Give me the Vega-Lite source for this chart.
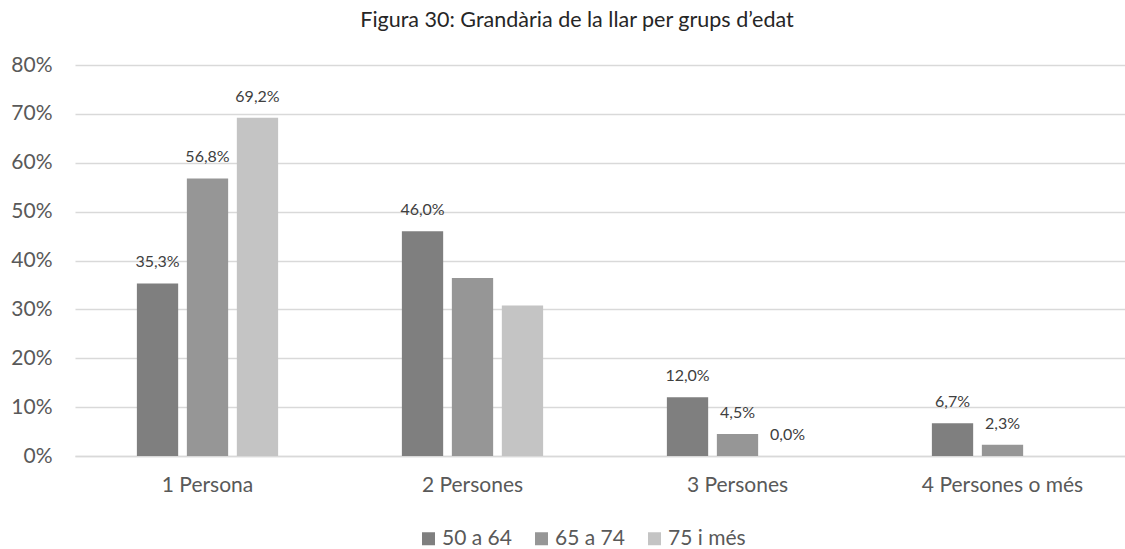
{
  "$schema": "https://vega.github.io/schema/vega-lite/v6.json",
  "width": 1050,
  "height": 391,
  "autosize": {"type": "none"},
  "padding": {"left": 75, "top": 65, "right": 0, "bottom": 93},
  "background": "white",
  "config": {
    "locale": {"number": {"decimal": ",", "thousands": ".", "grouping": [3], "currency": ["", " €"]}},
    "font": "Lato",
    "view": {"stroke": null}
  },
  "title": {
    "text": "Figura 30: Grandària de la llar per grups d’edat",
    "font": "Lato",
    "fontSize": 21.5,
    "fontWeight": "normal",
    "color": "#262626",
    "anchor": "middle",
    "frame": "group",
    "dx": -23,
    "offset": 6,
    "baseline": "alphabetic"
  },
  "data": {
    "values": [
      {"size": "1 Persona", "age": "50 a 64", "value": 0.353, "labelled": true},
      {"size": "1 Persona", "age": "65 a 74", "value": 0.568, "labelled": true},
      {"size": "1 Persona", "age": "75 i més", "value": 0.692, "labelled": true},
      {"size": "2 Persones", "age": "50 a 64", "value": 0.46, "labelled": true},
      {"size": "2 Persones", "age": "65 a 74", "value": 0.364, "labelled": false},
      {"size": "2 Persones", "age": "75 i més", "value": 0.308, "labelled": false},
      {"size": "3 Persones", "age": "50 a 64", "value": 0.12, "labelled": true},
      {"size": "3 Persones", "age": "65 a 74", "value": 0.045, "labelled": true},
      {"size": "3 Persones", "age": "75 i més", "value": 0.0, "labelled": true},
      {"size": "4 Persones o més", "age": "50 a 64", "value": 0.067, "labelled": true},
      {"size": "4 Persones o més", "age": "65 a 74", "value": 0.023, "labelled": true},
      {"size": "4 Persones o més", "age": "75 i més", "value": 0.0, "labelled": false}
    ]
  },
  "encoding": {
    "x": {
      "field": "size",
      "type": "nominal",
      "sort": ["1 Persona", "2 Persones", "3 Persones", "4 Persones o més"],
      "scale": {"range": [0, 1060], "paddingInner": 0.467, "paddingOuter": 0.2335},
      "axis": {
        "title": null,
        "labelAngle": 0,
        "labelFontSize": 21,
        "labelColor": "#595959",
        "labelPadding": 18,
        "ticks": false,
        "domainColor": "#d9d9d9",
        "domainWidth": 1.3
      }
    },
    "xOffset": {
      "field": "age",
      "type": "nominal",
      "sort": ["50 a 64", "65 a 74", "75 i més"],
      "scale": {"paddingInner": 0.174, "paddingOuter": 0}
    },
    "y": {
      "field": "value",
      "type": "quantitative",
      "scale": {"domain": [0, 0.8]},
      "axis": {
        "title": null,
        "values": [0, 0.1, 0.2, 0.3, 0.4, 0.5, 0.6, 0.7, 0.8],
        "format": ".0%",
        "labelFontSize": 21,
        "labelColor": "#595959",
        "labelPadding": 23,
        "ticks": false,
        "domain": false,
        "grid": true,
        "gridColor": "#d9d9d9",
        "gridWidth": 1.3
      }
    }
  },
  "layer": [
    {
      "mark": {"type": "bar"},
      "encoding": {
        "color": {
          "field": "age",
          "type": "nominal",
          "sort": ["50 a 64", "65 a 74", "75 i més"],
          "scale": {"domain": ["50 a 64", "65 a 74", "75 i més"], "range": ["#7f7f7f", "#969696", "#c4c4c4"]},
          "legend": {
            "title": null,
            "orient": "none",
            "legendX": 343,
            "legendY": 463,
            "direction": "horizontal",
            "symbolType": "square",
            "symbolSize": 169,
            "symbolStrokeWidth": 0,
            "labelFontSize": 21,
            "labelColor": "#595959",
            "labelOffset": 3,
            "columnPadding": 19,
            "padding": 0
          }
        }
      }
    },
    {
      "transform": [{"filter": "datum.labelled"}],
      "mark": {"type": "text", "dy": -16, "baseline": "alphabetic", "fontSize": 16, "color": "#404040"},
      "encoding": {
        "text": {"field": "value", "type": "quantitative", "format": ".1%"}
      }
    }
  ]
}
